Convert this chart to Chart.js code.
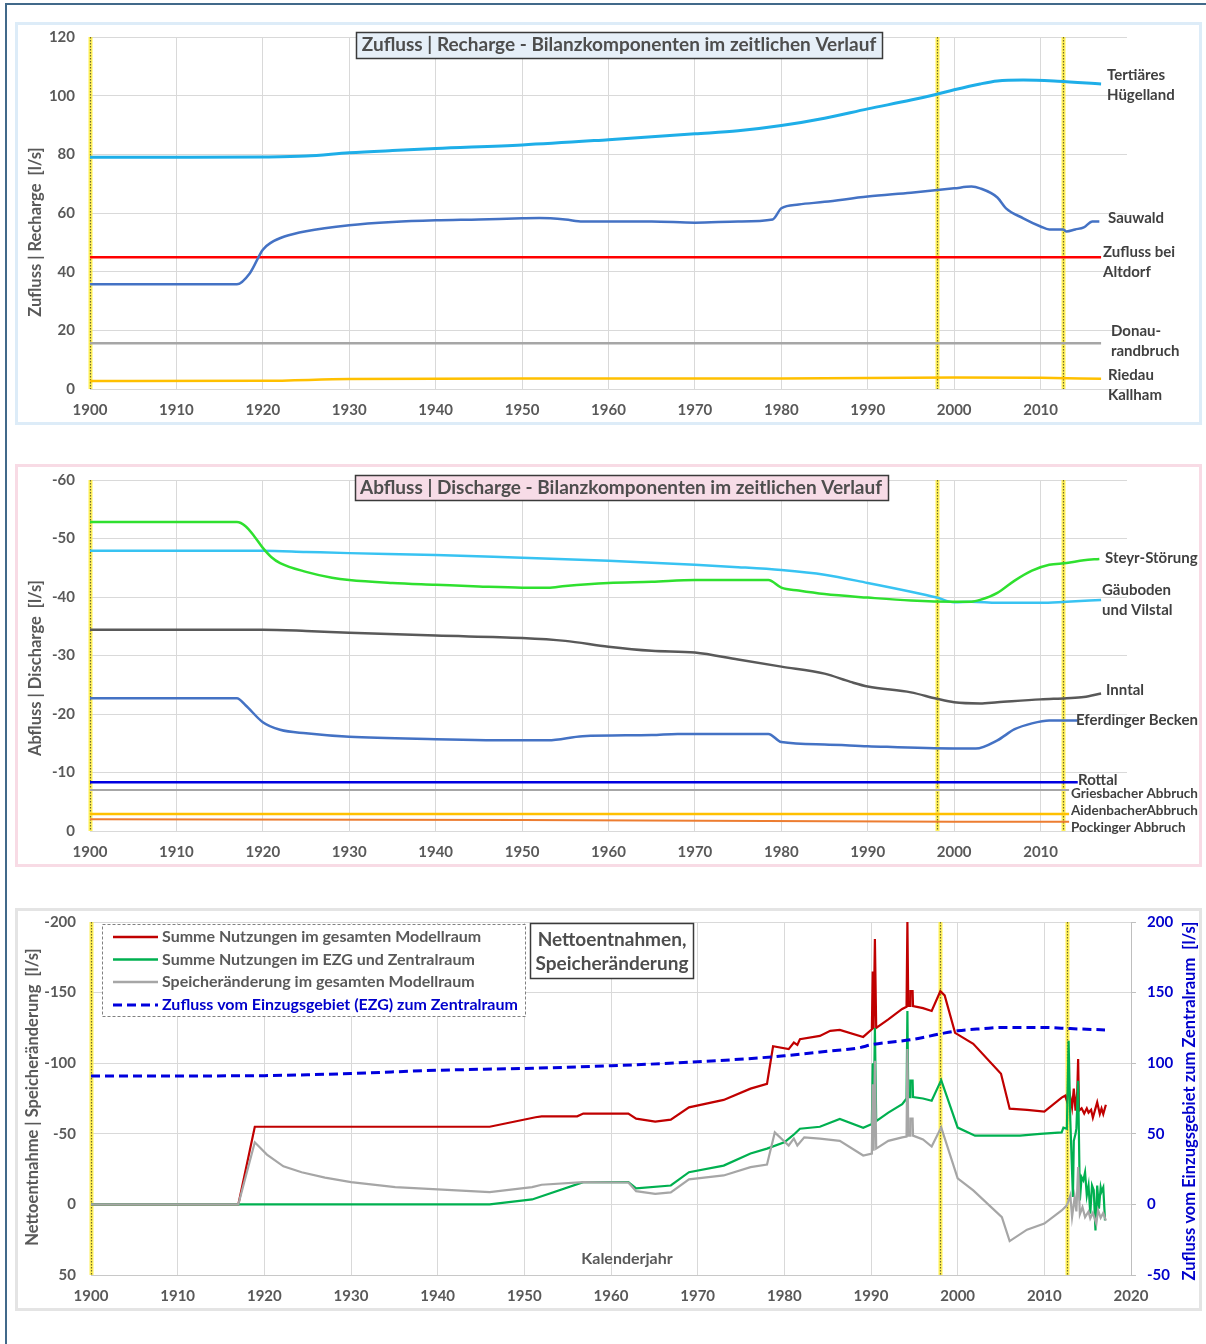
<!DOCTYPE html>
<html><head><meta charset="utf-8">
<script src="https://cdn.jsdelivr.net/npm/chart.js@4/dist/chart.umd.min.js"></script>
<style>
html,body{margin:0;padding:0;background:#fff;}
body{width:1206px;height:1344px;position:relative;overflow:hidden;font-family:Lato,sans-serif;}
#frame{position:absolute;left:5px;top:3px;width:1300px;height:1400px;border-top:2px solid #41698a;border-left:2px solid #41698a;}
.panel{position:absolute;left:15px;width:1181px;height:397px;border:3px solid;background:#fff;}
#p1{top:22px;border-color:#ddecf8;}
#p2{top:464px;border-color:#f8dbe5;}
#p3{top:908px;border-color:#e4e4e4;}
canvas{position:absolute;left:18px;}
#c1{top:13px;}
#c2{top:456px;}
#c3{top:898px;}
</style></head>
<body>
<div id="frame"></div>
<div class="panel" id="p1"></div>
<div class="panel" id="p2"></div>
<div class="panel" id="p3"></div>
<canvas id="c1" width="1181" height="409"></canvas>
<canvas id="c2" width="1181" height="408"></canvas>
<canvas id="c3" width="1181" height="410"></canvas>
<script>
// ---------------- DATA ----------------
const markerYears = [1900, 1998, 2012.6];
const xTicks = {min:1900, max:2020, step:10};

// Chart 1: Zufluss | Recharge  [year, l/s]
const tertiaeresHuegelland = [[1900,79],[1910,79],[1920,79.1],[1925,79.4],[1930,80.5],[1935,81.3],[1940,82],[1950,83.2],[1960,85],[1970,87],[1975,88],[1980,89.8],[1985,92.3],[1990,95.5],[1995,98.5],[1998,100.5],[2000,102],[2003,104],[2005,105],[2008,105.3],[2012,104.9],[2017,104]];
const sauwald = [[1900,35.7],[1917,35.7],[1918.5,39.5],[1920,47.5],[1921,50],[1922.5,52],[1925,53.8],[1930,55.8],[1935,56.9],[1940,57.5],[1945,57.8],[1950,58.2],[1952,58.3],[1955,57.8],[1957,57.1],[1965,57.1],[1970,56.7],[1975,57.1],[1979,57.8],[1980,61.6],[1982,62.9],[1985,63.8],[1990,65.6],[1995,66.9],[2000,68.4],[2002,69],[2003,68.4],[2005,65.3],[2006,61.6],[2008,58.2],[2010,55.4],[2011,54.4],[2012.6,54.4],[2013,53.7],[2014,54.4],[2015,55.1],[2016,57.1],[2016.8,57.1]];
const zuflussAltdorf = [[1900,44.9],[2017,44.9]];
const donaurandbruch = [[1900,15.6],[2017,15.6]];
const riedauKallham = [[1900,2.7],[1920,2.8],[1930,3.4],[1950,3.6],[1980,3.6],[2000,3.9],[2010,3.8],[2017,3.5]];

// Chart 2: Abfluss | Discharge
const steyrStoerung = [[1900,-52.8],[1917,-52.8],[1918,-52.1],[1919,-50.4],[1920,-48.4],[1921,-46.8],[1922,-45.8],[1925,-44.3],[1928,-43.3],[1930,-42.9],[1935,-42.4],[1940,-42.1],[1945,-41.8],[1950,-41.6],[1953,-41.6],[1955,-41.9],[1960,-42.4],[1965,-42.6],[1970,-42.9],[1978.5,-42.9],[1980,-41.6],[1982,-41.1],[1985,-40.5],[1990,-39.9],[1995,-39.4],[2000,-39.2],[2002,-39.2],[2003,-39.5],[2005,-40.7],[2007,-42.8],[2009,-44.5],[2011,-45.5],[2013,-45.8],[2015,-46.3],[2016.8,-46.5]];
const gaeubodenVilstal = [[1900,-47.9],[1920,-47.9],[1925,-47.7],[1930,-47.5],[1940,-47.2],[1950,-46.7],[1960,-46.2],[1970,-45.5],[1975,-45.1],[1980,-44.6],[1985,-43.8],[1990,-42.4],[1995,-40.9],[1998,-39.9],[2000,-39.1],[2002,-39.2],[2005,-39.0],[2010,-39.0],[2013,-39.2],[2017,-39.5]];
const inntal = [[1900,-34.4],[1920,-34.4],[1925,-34.2],[1930,-33.9],[1940,-33.4],[1950,-33.0],[1955,-32.5],[1960,-31.5],[1965,-30.8],[1970,-30.5],[1975,-29.3],[1980,-28.1],[1985,-26.9],[1988,-25.5],[1990,-24.7],[1995,-23.7],[1998,-22.6],[2000,-22.0],[2003,-21.8],[2005,-22.0],[2010,-22.5],[2013,-22.7],[2015,-22.9],[2017,-23.5]];
const eferdingerBecken = [[1900,-22.7],[1917,-22.7],[1918,-21.5],[1920,-18.6],[1922,-17.3],[1925,-16.7],[1930,-16.1],[1940,-15.7],[1950,-15.5],[1953,-15.5],[1957,-16.2],[1965,-16.4],[1968,-16.6],[1978.5,-16.6],[1980,-15.2],[1985,-14.8],[1990,-14.5],[2000,-14.1],[2002.5,-14.1],[2005,-15.5],[2007,-17.4],[2009,-18.4],[2011,-18.9],[2014.3,-18.9]];
const rottal = [[1900,-8.35],[2014.3,-8.35]];
const griesbacherAbbruch = [[1900,-7.0],[2013.3,-7.0]];
const aidenbacherAbbruch = [[1900,-2.9],[2013.3,-2.9]];
const pockingerAbbruch = [[1900,-2.0],[1950,-1.9],[2000,-1.6],[2013.3,-1.6]];

// Chart 3: Nettoentnahmen, Speicheränderung
const summeGesamt = [[1900,0],[1917,0],[1918.9,-55],[1946,-55],[1951.3,-61.7],[1952,-62.4],[1956.1,-62.4],[1956.8,-64.3],[1962,-64.3],[1962.9,-60.7],[1965.1,-58.6],[1966.9,-60],[1969,-68.7],[1973,-74],[1976.1,-82],[1978,-85.4],[1978.7,-112],[1980.5,-110],[1981.1,-114.6],[1981.5,-113],[1981.8,-117],[1984.1,-119.3],[1985.3,-122.9],[1986.4,-123.6],[1989.1,-118.6],[1990.1,-124],[1990.2,-165],[1990.3,-124],[1990.45,-188],[1990.6,-125],[1992,-131],[1993.6,-138.4],[1994.1,-140],[1994.2,-200],[1994.3,-140.5],[1994.5,-140.5],[1994.55,-151],[1994.8,-151],[1994.85,-140.5],[1996,-139],[1997,-137],[1998,-151],[1998.5,-148],[1999.7,-121.5],[2001.8,-113.7],[2005,-92.5],[2006,-67.8],[2008,-67],[2010,-65.7],[2012,-75.6],[2012.4,-77],[2012.6,-73.4],[2012.8,-82],[2013,-76],[2013.2,-68.7],[2013.4,-82],[2013.6,-66.4],[2013.8,-80],[2013.9,-103],[2014,-66.4],[2014.3,-68],[2014.6,-64.3],[2014.9,-68],[2015.1,-65],[2015.4,-67],[2015.6,-61.4],[2015.9,-68],[2016.1,-72.3],[2016.4,-64],[2016.6,-68],[2016.8,-64],[2017.1,-70.6]];
const summeEZG = [[1900,0],[1946,0],[1950.9,-3.5],[1956.8,-15.8],[1962,-15.8],[1962.9,-11.3],[1966.9,-13.4],[1969,-22.8],[1973,-27.5],[1976.1,-36],[1978,-39.5],[1980,-44],[1980.7,-47.5],[1981.2,-50],[1981.8,-53.6],[1984.1,-55],[1986.4,-60.5],[1989.1,-54.2],[1990.1,-57],[1990.2,-100],[1990.3,-58],[1990.45,-125],[1990.6,-59],[1992,-65],[1993.6,-71],[1994.1,-75],[1994.2,-137],[1994.3,-76],[1994.5,-76],[1994.55,-87.6],[1994.8,-87.6],[1994.85,-76],[1996,-75],[1997,-73.4],[1998.1,-88],[2000,-54.4],[2002,-48.7],[2005,-48.7],[2007.2,-48.7],[2009.5,-50],[2012,-51],[2012.2,-54.4],[2012.6,-53.6],[2012.8,-115.8],[2013,-59],[2013.3,-5.2],[2013.4,-45],[2013.6,-50],[2013.7,-54],[2013.9,-87.6],[2014.1,-2.8],[2014.3,-19.3],[2014.5,-17],[2014.7,-22.8],[2014.9,-6.4],[2015.1,-13.4],[2015.3,6.6],[2015.5,-13.4],[2015.7,-10],[2015.9,18.4],[2016.1,-13.4],[2016.3,3],[2016.5,-12],[2016.6,-9],[2016.8,-12],[2017,11.3]];
const speicherAenderung = [[1900,0],[1917,0],[1918.9,-44],[1920.3,-35.3],[1922.2,-27],[1924.3,-22.8],[1927,-19],[1930,-15.8],[1935.1,-12.2],[1940,-10.6],[1946,-8.7],[1950.9,-12.2],[1952,-13.9],[1956.8,-15.8],[1962,-15.5],[1962.9,-9.4],[1965.1,-7.5],[1966.9,-8.5],[1969,-17.7],[1973,-20.5],[1976.1,-26.4],[1978,-28.2],[1978.9,-51],[1980.5,-41.7],[1981.1,-46.6],[1981.5,-41.7],[1982.3,-47.5],[1984.1,-46.6],[1986.4,-45],[1989.1,-34.6],[1990.1,-36],[1990.2,-85],[1990.3,-38],[1990.45,-101.7],[1990.6,-39.5],[1992,-45],[1993.6,-47.5],[1994.1,-48],[1994.2,-110],[1994.3,-48.7],[1994.5,-48.7],[1994.55,-60.7],[1994.8,-60.7],[1994.85,-48.7],[1996,-46],[1997,-41],[1998.1,-54.6],[2000,-18.4],[2001.8,-9.9],[2005.1,9],[2006,26],[2008,17.9],[2010,13.6],[2012,4.3],[2012.6,0.7],[2013,-6.4],[2013.2,9],[2013.5,-5],[2013.7,5],[2013.9,-26.4],[2014.1,7],[2014.4,2],[2014.7,9],[2015.1,5],[2015.3,10],[2015.6,6],[2016,13.6],[2016.2,4],[2016.5,9.5],[2016.8,6],[2017.1,11.5]];
const zuflussEZG = [[1900,91],[1910,91],[1920,91.2],[1925,91.8],[1930,92.7],[1940,95],[1950,96.3],[1960,98.2],[1970,101],[1980,105.2],[1985,108.5],[1988.7,111],[1990,113],[1995,117],[1998,120.8],[2000,123],[2003,124.5],[2005,125.3],[2010,125.3],[2013,124.5],[2017,123.6]];

// ---------------- HELPERS ----------------
const FONT = 'Lato';
const TXT = '#595959';
const toXY = arr => arr.map(([x,y]) => ({x, y}));

const markerPlugin = {
  id: 'markers',
  beforeDatasetsDraw(chart, args, opts) {
    const {ctx, chartArea:{top, bottom}, scales:{x}} = chart;
    (opts.years || []).forEach(yr => {
      const px = Math.round(x.getPixelForValue(yr)) + 0.5;
      ctx.save();
      ctx.strokeStyle = 'rgba(255,238,70,0.9)'; ctx.lineWidth = 4;
      ctx.beginPath(); ctx.moveTo(px, top); ctx.lineTo(px, bottom); ctx.stroke();
      ctx.strokeStyle = '#6e6a2e'; ctx.lineWidth = 1.2; ctx.setLineDash([1.5, 1.5]);
      ctx.beginPath(); ctx.moveTo(px, top); ctx.lineTo(px, bottom); ctx.stroke();
      ctx.restore();
    });
  }
};

const decoPlugin = {
  id: 'deco',
  afterDraw(chart, args, o) {
    const ctx = chart.ctx;
    const ox = o.ox || 0, oy = o.oy || 0;
    (o.boxes || []).forEach(b => {
      ctx.save();
      ctx.fillStyle = b.fill || '#fff';
      ctx.fillRect(b.x0 - ox, b.y0 - oy, b.x1 - b.x0, b.y1 - b.y0);
      ctx.strokeStyle = b.stroke || '#3a3a3a';
      ctx.lineWidth = b.lw || 1.5;
      if (b.dash) ctx.setLineDash(b.dash);
      ctx.strokeRect(b.x0 - ox + 0.5, b.y0 - oy + 0.5, b.x1 - b.x0, b.y1 - b.y0);
      ctx.restore();
    });
    if (o.legend) {
      const L = o.legend;
      chart.data.datasets.forEach((ds, i) => {
        const y = L.rows[i] - oy;
        ctx.save();
        ctx.strokeStyle = ds.borderColor; ctx.lineWidth = ds.borderDash ? 3 : 2.5;
        if (ds.borderDash) ctx.setLineDash(ds.borderDash);
        ctx.beginPath(); ctx.moveTo(L.x0 - ox, y); ctx.lineTo(L.x1 - ox, y); ctx.stroke();
        ctx.restore();
        ctx.save();
        ctx.font = L.font; ctx.fillStyle = ds.legendTextColor || TXT;
        ctx.textAlign = 'left'; ctx.textBaseline = 'middle';
        ctx.fillText(ds.label, L.tx - ox, y);
        ctx.restore();
      });
    }
    (o.texts || []).forEach(t => {
      ctx.save();
      ctx.font = t.font; ctx.fillStyle = t.color || '#404040';
      ctx.textAlign = t.align || 'left'; ctx.textBaseline = 'middle';
      ctx.translate(t.x - ox, t.y - oy);
      if (t.rot) ctx.rotate(t.rot);
      ctx.fillText(t.text, 0, 0);
      ctx.restore();
    });
  }
};

function xScale(showLast, border) {
  return {
    type: 'linear', min: xTicks.min, max: xTicks.max,
    ticks: {stepSize: xTicks.step, padding: 12, color: TXT, maxRotation: 0, autoSkip: false,
      font: {family: FONT, size: 15, weight: 'bold'},
      callback: v => (!showLast && v === xTicks.max) ? '' : String(v)},
    grid: {drawTicks: false, lineWidth: 1,
      color: c => (!showLast && c.tick && c.tick.value === xTicks.max) ? 'rgba(0,0,0,0)' : '#d9d9d9'},
    border: {display: !!border, color: '#c8c8c8'},
    afterFit: s => { s.height = 33; }
  };
}
function yScale(min, max, step, reverse, width) {
  return {
    min, max, reverse,
    ticks: {stepSize: step, padding: 15, color: TXT, font: {family: FONT, size: 15, weight: 'bold'}, callback: v => String(v)},
    grid: {drawTicks: false, color: '#d9d9d9', lineWidth: 1},
    border: {display: false},
    afterFit: s => { s.width = width; }
  };
}
function line(label, data, color, width, extra) {
  return Object.assign({label, data: toXY(data), borderColor: color, backgroundColor: color,
    borderWidth: width, pointRadius: 0, fill: false, tension: 0.4, cubicInterpolationMode: 'monotone'}, extra || {});
}
const lbl = (text, x, y, size, extra) => Object.assign({text, x, y, font: `bold ${size || 15}px ${FONT}`}, extra || {});

Chart.defaults.animation = false;

// ---------------- CHART 1 ----------------
new Chart(document.getElementById('c1'), {
  type: 'line',
  data: {datasets: [
    line('Sauwald', sauwald, '#4472c4', 2.5, {order: 0}),
    line('Tertiäres Hügelland', tertiaeresHuegelland, '#1eaee8', 3, {order: 1}),
    line('Zufluss bei Altdorf', zuflussAltdorf, '#ff0000', 2.5, {order: 2}),
    line('Donaurandbruch', donaurandbruch, '#a6a6a6', 2.5, {order: 3}),
    line('Riedau Kallham', riedauKallham, '#ffc000', 2.5, {order: 4})
  ]},
  options: {
    responsive: false, animation: false, events: [],
    layout: {padding: {left: 0, top: 0, right: 72, bottom: 0}},
    scales: {x: xScale(false), y: yScale(0, 120, 20, false, 72)},
    plugins: {
      legend: {display: false}, tooltip: {enabled: false},
      markers: {years: markerYears},
      deco: {ox: 18, oy: 13,
        boxes: [{x0: 356, y0: 32, x1: 882, y1: 58, fill: '#e6eff8'}],
        texts: [
          lbl('Zufluss | Recharge - Bilanzkomponenten im zeitlichen Verlauf', 619, 45, 19, {align: 'center', color: '#4d4d4d'}),
          lbl('Zufluss | Recharge  [l/s]', 36, 232, 16.5, {align: 'center', rot: -Math.PI/2, color: TXT}),
          lbl('Tertiäres', 1107, 75), lbl('Hügelland', 1107, 95),
          lbl('Sauwald', 1108, 218),
          lbl('Zufluss bei', 1103, 252), lbl('Altdorf', 1103, 272),
          lbl('Donau-', 1111, 331), lbl('randbruch', 1111, 351),
          lbl('Riedau', 1108, 375), lbl('Kallham', 1108, 395)
        ]}
    }
  },
  plugins: [markerPlugin, decoPlugin]
});

// ---------------- CHART 2 ----------------
new Chart(document.getElementById('c2'), {
  type: 'line',
  data: {datasets: [
    line('Steyr-Störung', steyrStoerung, '#2fe02f', 2.5, {order: 0}),
    line('Gäuboden und Vilstal', gaeubodenVilstal, '#38c3f2', 2.5, {order: 1}),
    line('Inntal', inntal, '#595959', 2.5, {order: 2}),
    line('Eferdinger Becken', eferdingerBecken, '#4472c4', 2.5, {order: 3}),
    line('Rottal', rottal, '#0000e0', 2.5, {order: 4}),
    line('Griesbacher Abbruch', griesbacherAbbruch, '#a6a6a6', 2, {order: 5}),
    line('AidenbacherAbbruch', aidenbacherAbbruch, '#ffc000', 2.5, {order: 6}),
    line('Pockinger Abbruch', pockingerAbbruch, '#ed7d31', 2, {order: 7})
  ]},
  options: {
    responsive: false, animation: false, events: [],
    layout: {padding: {left: 0, top: 0, right: 72, bottom: 0}},
    scales: {x: xScale(false), y: yScale(-60, 0, 10, true, 72)},
    plugins: {
      legend: {display: false}, tooltip: {enabled: false},
      markers: {years: markerYears},
      deco: {ox: 18, oy: 456,
        boxes: [{x0: 355, y0: 475, x1: 888, y1: 500, fill: '#f7dce7'}],
        texts: [
          lbl('Abfluss | Discharge - Bilanzkomponenten im zeitlichen Verlauf', 621, 488, 19, {align: 'center', color: '#4d4d4d'}),
          lbl('Abfluss | Discharge  [l/s]', 36, 668, 16.5, {align: 'center', rot: -Math.PI/2, color: TXT}),
          lbl('Steyr-Störung', 1105, 558),
          lbl('Gäuboden', 1102, 590), lbl('und Vilstal', 1102, 610),
          lbl('Inntal', 1106, 690),
          lbl('Eferdinger Becken', 1076, 720),
          lbl('Rottal', 1078, 780),
          lbl('Griesbacher Abbruch', 1071, 794, 13.5),
          lbl('AidenbacherAbbruch', 1071, 811, 13.5),
          lbl('Pockinger Abbruch', 1071, 828, 13.5)
        ]}
    }
  },
  plugins: [markerPlugin, decoPlugin]
});

// ---------------- CHART 3 ----------------
const y3 = yScale(-200, 50, 50, true, 73);
const y3r = {
  position: 'right', min: -50, max: 200,
  ticks: {stepSize: 50, padding: 11, color: '#0000cc', font: {family: FONT, size: 15, weight: 'bold'}, callback: v => String(v)},
  grid: {drawOnChartArea: false, drawTicks: true, tickLength: 5, color: '#bfbfbf'},
  border: {display: true, color: '#bfbfbf'},
  afterFit: s => { s.width = 68; }
};
new Chart(document.getElementById('c3'), {
  type: 'line',
  data: {datasets: [
    line('Summe Nutzungen im gesamten Modellraum', summeGesamt, '#c00000', 2.2, {tension: 0, cubicInterpolationMode: 'default', order: 3, yAxisID: 'y'}),
    line('Summe Nutzungen im EZG und Zentralraum', summeEZG, '#00b050', 2.2, {tension: 0, cubicInterpolationMode: 'default', order: 2, yAxisID: 'y'}),
    line('Speicheränderung im gesamten Modellraum', speicherAenderung, '#a6a6a6', 2.2, {tension: 0, cubicInterpolationMode: 'default', order: 1, yAxisID: 'y'}),
    line('Zufluss vom Einzugsgebiet (EZG) zum Zentralraum', zuflussEZG, '#0000dd', 3, {borderDash: [9, 5], order: 0, yAxisID: 'y2', legendTextColor: '#0000cc'})
  ]},
  options: {
    responsive: false, animation: false, events: [],
    layout: {padding: {left: 0, top: 0, right: 0, bottom: 0}},
    scales: {x: xScale(true, true), y: y3, y2: y3r},
    plugins: {
      legend: {display: false}, tooltip: {enabled: false},
      markers: {years: markerYears},
      deco: {ox: 18, oy: 898,
        boxes: [
          {x0: 102, y0: 924, x1: 525, y1: 1016, fill: '#fff', stroke: '#808080', lw: 1, dash: [3, 2]},
          {x0: 530, y0: 923, x1: 693, y1: 978, fill: '#fff'}
        ],
        legend: {x0: 113, x1: 158, tx: 162, rows: [937, 959.5, 982, 1005], font: `bold 16px ${FONT}`},
        texts: [
          lbl('Nettoentnahmen,', 612, 940, 19, {align: 'center', color: '#4d4d4d'}),
          lbl('Speicheränderung', 612, 964, 19, {align: 'center', color: '#4d4d4d'}),
          lbl('Kalenderjahr', 627, 1259, 16, {align: 'center', color: TXT}),
          lbl('Nettoentnahme | Speicheränderung  [l/s]', 33, 1097, 16.5, {align: 'center', rot: -Math.PI/2, color: TXT}),
          lbl('Zufluss vom Einzugsgebiet zum Zentralraum  [l/s]', 1190, 1101, 16.5, {align: 'center', rot: -Math.PI/2, color: '#0000cc'})
        ]}
    }
  },
  plugins: [markerPlugin, decoPlugin]
});
</script>
</body></html>
